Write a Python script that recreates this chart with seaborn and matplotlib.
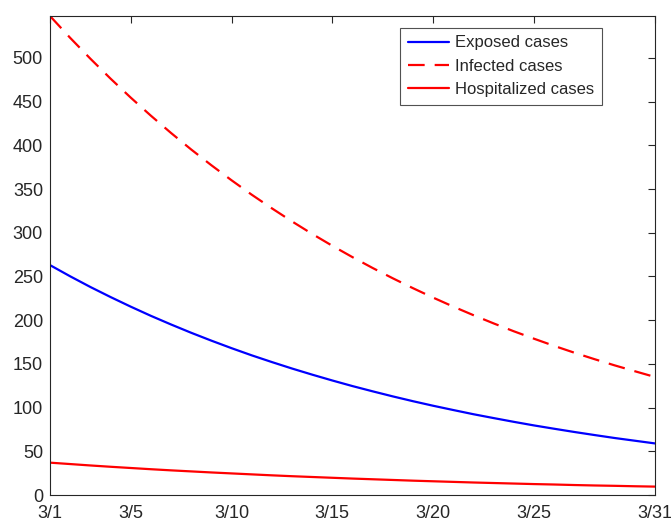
import numpy as np
import pandas as pd
import matplotlib
matplotlib.use('Agg')
import matplotlib.pyplot as plt
import seaborn as sns

# values, one per day from 3/1 to 3/31
days = list(range(1, 32))
exposed = [263.0, 250.2, 238.0, 226.5, 215.5, 205.0, 195.1, 185.6, 176.6, 168.0, 159.8, 152.1,
           144.7, 137.7, 131.0, 124.6, 118.6, 112.8, 107.3, 102.1, 97.2, 92.4, 88.0, 83.7,
           79.6, 75.8, 72.1, 68.6, 65.2, 62.1, 59.0]
infected = [548.0, 523.0, 499.2, 476.4, 454.7, 434.0, 414.2, 395.3, 377.3, 360.1, 343.6,
            328.0, 313.0, 298.7, 285.1, 272.1, 259.7, 247.9, 236.6, 225.8, 215.5, 205.7,
            196.3, 187.3, 178.8, 170.6, 162.8, 155.4, 148.3, 141.6, 135.0]
hospitalized = [37.0, 35.4, 33.8, 32.3, 30.9, 29.5, 28.2, 27.0, 25.8, 24.7, 23.6, 22.5, 21.5,
                20.6, 19.7, 18.8, 18.0, 17.2, 16.4, 15.7, 15.0, 14.3, 13.7, 13.1, 12.5,
                12.0, 11.4, 10.9, 10.5, 10.0, 9.6]
xtick_days = [1, 5, 10, 15, 20, 25, 31]
xtick_labels = ['3/1', '3/5', '3/10', '3/15', '3/20', '3/25', '3/31']

sns.set_style('white')
plt.rcParams['font.family'] = ['Liberation Sans', 'DejaVu Sans']

df = pd.DataFrame({'day': days, 'Exposed cases': exposed,
                   'Infected cases': infected, 'Hospitalized cases': hospitalized})

fig = plt.figure(figsize=(6.71, 5.24), dpi=100)
ax = fig.add_axes([50 / 671, 1 - 495 / 524, 605 / 671, 479 / 524])

sns.lineplot(data=df, x='day', y='Exposed cases', ax=ax, color='#0000ff', lw=1.6,
             label='Exposed cases')
sns.lineplot(data=df, x='day', y='Infected cases', ax=ax, color='#ff0000', lw=1.6,
             label='Infected cases')
ax.lines[-1].set_dashes((7.5, 4.5))
sns.lineplot(data=df, x='day', y='Hospitalized cases', ax=ax, color='#ff0000', lw=1.6,
             label='Hospitalized cases')

ax.set_xlim(1, 31)
ax.set_ylim(0, 548)
ax.set_xticks(xtick_days)
ax.set_xticklabels(xtick_labels)
ax.set_yticks(np.arange(0, 501, 50))
ax.set_xlabel('')
ax.set_ylabel('')

for s in ax.spines.values():
    s.set_color('#262626')
    s.set_linewidth(0.8)
ax.tick_params(direction='in', length=5, width=0.8, colors='#262626', labelsize=13,
               top=True, right=True, labelcolor='#262626')
ax.tick_params(axis='x', pad=7)
ax.tick_params(axis='y', pad=5)

leg = ax.legend(loc='upper right', bbox_to_anchor=(0.912, 0.975), fontsize=12,
                frameon=True, fancybox=False, edgecolor='#262626', handlelength=2.5,
                borderpad=0.45, labelspacing=0.5, handletextpad=0.35, borderaxespad=0)
leg.get_frame().set_linewidth(0.8)

fig.savefig('out.png', dpi=100)
